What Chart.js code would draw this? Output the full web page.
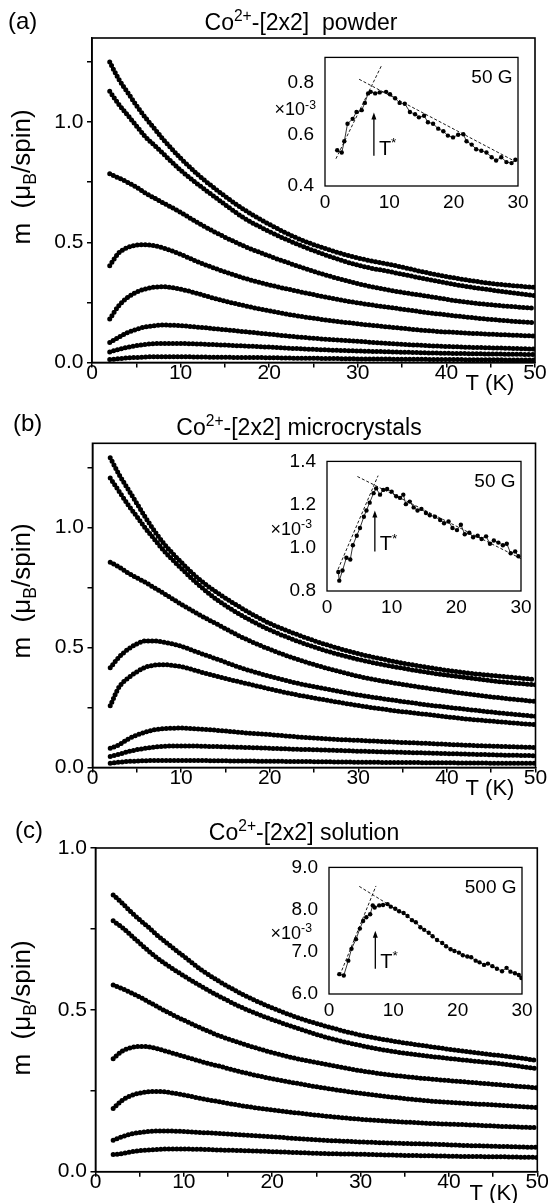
<!DOCTYPE html>
<html>
<head>
<meta charset="utf-8">
<script src="https://cdn.jsdelivr.net/npm/chart.js@4.4.1/dist/chart.umd.min.js"></script>
<style>
  body { margin: 0; background: #fff; }
  #wrap { position: relative; width: 548px; height: 1203px; overflow: hidden; }
  canvas { position: absolute; }
</style>
</head>
<body>
<div id="wrap">
  <canvas id="mainA"></canvas>
  <canvas id="insetA"></canvas>
  <canvas id="mainB"></canvas>
  <canvas id="insetB"></canvas>
  <canvas id="mainC"></canvas>
  <canvas id="insetC"></canvas>
</div>
<script>
// ---- data ----
const tempsK = [2, 3, 4, 5, 6, 7, 8, 10, 12, 14, 17, 20, 23, 26, 30, 34, 38, 42, 46, 50];
const xTickVals = [0, 5, 10, 15, 20, 25, 30, 35, 40, 45, 50];
const yTickValsAB = [0, 0.25, 0.5, 0.75, 1.0, 1.25];
const yTickValsC = [0, 0.25, 0.5, 0.75, 1.0];

// (a) powder, m (muB/spin), one row per field
const powderM = [
  [1.25, 1.18, 1.125, 1.07, 1.02, 0.975, 0.93, 0.85, 0.78, 0.72, 0.64, 0.575, 0.52, 0.478, 0.435, 0.405, 0.372, 0.345, 0.325, 0.312],
  [1.128, 1.075, 1.03, 0.985, 0.94, 0.905, 0.87, 0.80, 0.74, 0.685, 0.605, 0.545, 0.495, 0.452, 0.405, 0.375, 0.345, 0.318, 0.297, 0.278],
  [0.785, 0.768, 0.75, 0.73, 0.705, 0.685, 0.665, 0.625, 0.58, 0.54, 0.487, 0.443, 0.404, 0.368, 0.328, 0.298, 0.275, 0.252, 0.237, 0.225],
  [0.403, 0.455, 0.478, 0.488, 0.49, 0.486, 0.477, 0.45, 0.418, 0.39, 0.353, 0.323, 0.298, 0.275, 0.248, 0.227, 0.207, 0.19, 0.176, 0.165],
  [0.181, 0.235, 0.27, 0.292, 0.306, 0.313, 0.315, 0.305, 0.286, 0.265, 0.238, 0.215, 0.195, 0.179, 0.161, 0.146, 0.132, 0.123, 0.116, 0.11],
  [0.083, 0.105, 0.124, 0.138, 0.148, 0.153, 0.156, 0.153, 0.147, 0.14, 0.129, 0.118, 0.107, 0.098, 0.088, 0.078, 0.07, 0.064, 0.06, 0.056],
  [0.044, 0.054, 0.063, 0.07, 0.075, 0.078, 0.079, 0.079, 0.077, 0.074, 0.069, 0.064, 0.058, 0.053, 0.048, 0.044, 0.04, 0.037, 0.035, 0.033],
  [0.012, 0.016, 0.019, 0.021, 0.023, 0.024, 0.024, 0.024, 0.023, 0.022, 0.021, 0.02, 0.018, 0.017, 0.015, 0.014, 0.013, 0.012, 0.011, 0.01]
];

// (b) microcrystals
const microM = [
  [1.29, 1.22, 1.16, 1.10, 1.04, 0.985, 0.935, 0.855, 0.785, 0.73, 0.66, 0.60, 0.555, 0.516, 0.474, 0.442, 0.416, 0.395, 0.38, 0.366],
  [1.205, 1.15, 1.095, 1.045, 0.995, 0.95, 0.905, 0.83, 0.76, 0.70, 0.63, 0.573, 0.528, 0.49, 0.45, 0.42, 0.395, 0.375, 0.357, 0.344],
  [0.855, 0.835, 0.81, 0.79, 0.77, 0.748, 0.726, 0.68, 0.637, 0.598, 0.54, 0.492, 0.452, 0.418, 0.38, 0.352, 0.329, 0.308, 0.29, 0.275],
  [0.415, 0.46, 0.492, 0.515, 0.527, 0.527, 0.522, 0.505, 0.478, 0.452, 0.412, 0.38, 0.352, 0.33, 0.302, 0.28, 0.26, 0.243, 0.227, 0.213],
  [0.257, 0.335, 0.372, 0.398, 0.418, 0.426, 0.428, 0.42, 0.40, 0.38, 0.353, 0.327, 0.303, 0.283, 0.258, 0.237, 0.22, 0.203, 0.19, 0.178],
  [0.08, 0.095, 0.118, 0.135, 0.148, 0.157, 0.162, 0.164, 0.16, 0.155, 0.145, 0.137, 0.128, 0.12, 0.113, 0.106, 0.10, 0.093, 0.088, 0.083],
  [0.046, 0.055, 0.066, 0.074, 0.08, 0.085, 0.088, 0.09, 0.089, 0.087, 0.084, 0.08, 0.076, 0.073, 0.068, 0.064, 0.06, 0.056, 0.052, 0.049],
  [0.018, 0.022, 0.025, 0.027, 0.028, 0.029, 0.029, 0.029, 0.029, 0.028, 0.027, 0.026, 0.025, 0.024, 0.022, 0.021, 0.02, 0.019, 0.018, 0.018]
];

// (c) solution
const solutionM = [
  [0.855, 0.83, 0.803, 0.778, 0.755, 0.73, 0.708, 0.665, 0.623, 0.588, 0.543, 0.506, 0.475, 0.45, 0.422, 0.402, 0.386, 0.371, 0.358, 0.344],
  [0.775, 0.755, 0.731, 0.706, 0.682, 0.66, 0.64, 0.605, 0.572, 0.542, 0.502, 0.47, 0.442, 0.416, 0.39, 0.37, 0.356, 0.344, 0.333, 0.318],
  [0.577, 0.566, 0.553, 0.54, 0.525, 0.51, 0.495, 0.468, 0.443, 0.42, 0.392, 0.368, 0.348, 0.332, 0.312, 0.297, 0.286, 0.277, 0.268, 0.259],
  [0.349, 0.372, 0.383, 0.387, 0.386, 0.38, 0.372, 0.356, 0.34, 0.326, 0.305, 0.287, 0.272, 0.258, 0.242, 0.229, 0.218, 0.211, 0.205, 0.198],
  [0.195, 0.22, 0.235, 0.243, 0.247, 0.248, 0.246, 0.237, 0.226, 0.216, 0.202, 0.191, 0.181, 0.172, 0.162, 0.155, 0.149, 0.145, 0.14, 0.136],
  [0.097, 0.108, 0.116, 0.121, 0.124, 0.126, 0.126, 0.124, 0.121, 0.118, 0.113, 0.108, 0.102, 0.097, 0.092, 0.088, 0.085, 0.081, 0.078, 0.075],
  [0.053, 0.056, 0.061, 0.065, 0.067, 0.069, 0.07, 0.07, 0.069, 0.067, 0.065, 0.062, 0.059, 0.056, 0.054, 0.051, 0.049, 0.047, 0.046, 0.044]
];

// insets: susceptibility (x10^-3) at low field
const insetPowderT = [1.9, 2.6, 3.0, 3.5, 4.3, 4.9, 5.7, 6.2, 6.7, 7.1, 7.8, 8.5, 9.5, 10.1, 10.9, 11.6, 12.4, 13.2, 14.0, 14.6, 15.4, 16.0, 16.8, 17.6, 18.4, 19.1, 19.9, 20.7, 21.5, 22.0, 22.8, 23.5, 24.3, 25.1, 25.9, 26.6, 27.4, 28.2, 29.0, 29.6];
const insetPowderChi = [0.539, 0.530, 0.574, 0.642, 0.661, 0.688, 0.695, 0.723, 0.760, 0.766, 0.760, 0.764, 0.766, 0.757, 0.741, 0.723, 0.720, 0.688, 0.679, 0.667, 0.673, 0.648, 0.642, 0.623, 0.613, 0.596, 0.589, 0.599, 0.601, 0.574, 0.561, 0.543, 0.537, 0.530, 0.512, 0.499, 0.512, 0.493, 0.489, 0.502];

const insetMicroT = [1.75, 1.9, 2.4, 3.0, 3.6, 4.0, 4.6, 5.1, 5.7, 6.1, 6.6, 7.2, 7.6, 8.2, 8.7, 9.3, 10.0, 10.7, 11.3, 11.8, 12.2, 12.8, 13.4, 14.0, 14.6, 15.3, 15.9, 16.7, 17.5, 18.1, 18.8, 19.4, 20.1, 20.7, 21.3, 22.0, 22.6, 23.3, 23.9, 24.6, 25.2, 25.8, 26.5, 27.2, 27.8, 28.4, 29.1, 29.6];
const insetMicroChi = [0.888, 0.848, 0.895, 0.954, 0.946, 1.012, 1.056, 1.092, 1.144, 1.173, 1.209, 1.253, 1.275, 1.246, 1.268, 1.272, 1.26, 1.239, 1.231, 1.246, 1.202, 1.214, 1.187, 1.173, 1.18, 1.161, 1.151, 1.144, 1.129, 1.114, 1.122, 1.092, 1.082, 1.107, 1.063, 1.07, 1.049, 1.056, 1.041, 1.053, 1.019, 1.034, 1.024, 1.012, 1.019, 0.975, 0.983, 0.961];

const insetSolutionT = [1.6, 2.3, 3.0, 3.5, 4.2, 4.8, 5.3, 5.8, 6.4, 6.8, 7.1, 7.8, 8.4, 9.1, 9.6, 10.3, 10.9, 11.6, 12.2, 12.9, 13.5, 14.2, 14.8, 15.5, 16.1, 16.8, 17.6, 18.2, 18.9, 19.5, 20.2, 20.8, 21.5, 22.1, 22.8, 23.4, 24.1, 24.7, 25.4, 26.1, 26.9, 27.6, 28.2, 28.9, 29.5, 29.9];
const insetSolutionChi = [6.47, 6.44, 6.79, 7.07, 7.30, 7.55, 7.73, 7.82, 7.89, 8.10, 8.05, 8.10, 8.11, 8.13, 8.07, 8.02, 7.96, 7.92, 7.85, 7.75, 7.70, 7.58, 7.52, 7.45, 7.37, 7.28, 7.21, 7.13, 7.06, 7.02, 6.98, 6.92, 6.89, 6.87, 6.79, 6.75, 6.69, 6.72, 6.66, 6.60, 6.54, 6.62, 6.53, 6.49, 6.45, 6.38];

// dashed guide lines in the insets (end points)
const powderFitT = [[1.7, 8.8], [5.3, 29.6]];
const powderFitChi = [[0.506, 0.869], [0.815, 0.495]];
const microFitT = [[1.7, 7.9], [4.7, 30]];
const microFitChi = [[0.90, 1.334], [1.33, 0.95]];
const solutionFitT = [[1.7, 7.3], [4.7, 12]];
const solutionFitChi = [[6.45, 8.56], [8.55, 7.86]];

const FONT = '"Liberation Sans", Arial, Helvetica, sans-serif';

// draws text made of normal / superscript / subscript pieces
function richText(ctx, parts, x, y, size, align) {
  const fontFor = m => (m ? size * 0.68 : size) + 'px ' + FONT;
  const widths = parts.map(p => { ctx.font = fontFor(p[1]); return ctx.measureText(p[0]).width; });
  const total = widths.reduce((a, b) => a + b, 0);
  let cx = align === 'center' ? x - total / 2 : align === 'right' ? x - total : x;
  ctx.textAlign = 'left';
  ctx.textBaseline = 'alphabetic';
  parts.forEach((p, i) => {
    ctx.font = fontFor(p[1]);
    const dy = p[1] === 1 ? -size * 0.38 : p[1] === -1 ? size * 0.22 : 0;
    ctx.fillText(p[0], cx, y + dy);
    cx += widths[i];
  });
}

const framePlugin = {
  id: 'frame',
  afterDraw(chart, args, opts) {
    const { ctx, chartArea: a } = chart;
    ctx.save();
    ctx.strokeStyle = '#000';
    ctx.lineWidth = opts.width;
    ctx.strokeRect(a.left, a.top, a.right - a.left, a.bottom - a.top);
    ctx.restore();
  }
};

const decoPlugin = {
  id: 'deco',
  afterDraw(chart, args, o) {
    const ctx = chart.ctx;
    ctx.save();
    ctx.fillStyle = '#000';
    richText(ctx, o.title, o.titleX, o.titleY, 23, 'center');
    richText(ctx, [[o.letter, 0]], o.letterX, o.letterY, 24, 'left');
    richText(ctx, [['T (K)', 0]], o.unitX, o.unitY, 22, 'center');
    ctx.translate(o.yTitleX, o.yTitleY);
    ctx.rotate(-Math.PI / 2);
    richText(ctx, [['m  (\u03bc', 0], ['B', -1], ['/spin)', 0]], 0, 0, 26, 'center');
    ctx.restore();
  }
};

const insetPlugin = {
  id: 'insetDeco',
  afterDraw(chart, args, o) {
    const { ctx, chartArea: a, scales } = chart;
    ctx.save();
    ctx.fillStyle = '#000';
    ctx.strokeStyle = '#000';
    richText(ctx, [[o.field, 0]], a.right - 5.5, a.top + 26, 19, 'right');
    const yl = scales.y.getPixelForValue(o.scaleLabelAt);
    richText(ctx, [['\u00d710', 0], ['-3', 1]], a.left - o.scaleLabelGap, yl + 6.5, 18, 'right');
    // T* arrow
    const ax = scales.x.getPixelForValue(o.arrowT);
    const y0 = scales.y.getPixelForValue(o.arrowFrom);
    const y1 = scales.y.getPixelForValue(o.arrowTo);
    ctx.lineWidth = 1.3;
    ctx.beginPath();
    ctx.moveTo(ax, y0);
    ctx.lineTo(ax, y1 + 5);
    ctx.stroke();
    ctx.beginPath();
    ctx.moveTo(ax, y1);
    ctx.lineTo(ax - 2.5, y1 + 7);
    ctx.lineTo(ax + 2.5, y1 + 7);
    ctx.closePath();
    ctx.fill();
    richText(ctx, [['T', 0], ['*', 1]], ax + 5, y0 - 1, 20, 'left');
    ctx.restore();
  }
};

function makeMain(id, g, curves, yMax, yTicks, deco) {
  const canvas = document.getElementById(id);
  canvas.width = 548;
  canvas.height = g.h;
  canvas.style.left = '0px';
  canvas.style.top = g.y0 + 'px';
  const datasets = curves.map(ms => ({
    data: tempsK.map((t, i) => ({ x: t, y: ms[i] })),
    borderColor: '#000',
    borderWidth: 5,
    borderDash: [0, 4],
    borderCapStyle: 'round',
    cubicInterpolationMode: 'monotone',
    pointRadius: 0,
    fill: false
  }));
  new Chart(canvas, {
    type: 'line',
    data: { datasets },
    options: {
      responsive: false,
      animation: false,
      events: [],
      layout: { padding: { left: 0, top: g.top - g.y0, right: 548 - g.right, bottom: 0 } },
      scales: {
        x: {
          type: 'linear', min: 0, max: 50,
          afterBuildTicks: s => { s.ticks = xTickVals.map(v => ({ value: v })); },
          afterFit: s => { s.height = g.y0 + g.h - g.bottom; },
          ticks: {
            callback: v => (v % 10 === 0 ? String(v) : ''),
            font: { family: FONT, size: 21 }, color: '#000',
            padding: -7, maxRotation: 0, autoSkip: false
          },
          grid: { drawOnChartArea: false, drawTicks: true, tickLength: 5, color: '#000', lineWidth: 1.5 },
          border: { display: true, color: '#000', width: 1.5 }
        },
        y: {
          type: 'linear', min: 0, max: yMax,
          afterBuildTicks: s => { s.ticks = yTicks.map(v => ({ value: v })); },
          afterFit: s => { s.width = g.left; },
          ticks: {
            callback: v => (Math.abs(v * 2 - Math.round(v * 2)) < 1e-6 ? v.toFixed(1) : ''),
            font: { family: FONT, size: 21 }, color: '#000', padding: 3.5
          },
          grid: { drawOnChartArea: false, drawTicks: true, tickLength: 5, color: '#000', lineWidth: 1.5 },
          border: { display: true, color: '#000', width: 1.5 }
        }
      },
      plugins: {
        legend: { display: false },
        tooltip: { enabled: false },
        frame: { width: 1.6 },
        deco: deco
      }
    },
    plugins: [framePlugin, decoPlugin]
  });
}

function makeInset(id, g, T, chi, yMin, yMax, yTicks, fitT, fitChi, extra) {
  const canvas = document.getElementById(id);
  const cx = g.left - 58, cy = g.top - 8;
  const cw = g.right + 14 - cx, ch = g.bottom + 24 - cy;
  canvas.width = cw;
  canvas.height = ch;
  canvas.style.left = cx + 'px';
  canvas.style.top = cy + 'px';
  const datasets = [{
    data: T.map((t, i) => ({ x: t, y: chi[i] })),
    borderColor: '#000', borderWidth: 0.8,
    pointRadius: 2.2, pointBackgroundColor: '#000', pointBorderWidth: 0,
    tension: 0, fill: false
  }];
  fitT.forEach((ft, k) => {
    datasets.push({
      data: ft.map((t, i) => ({ x: t, y: fitChi[k][i] })),
      borderColor: '#000', borderWidth: 0.9, borderDash: [3, 2],
      pointRadius: 0, fill: false
    });
  });
  new Chart(canvas, {
    type: 'line',
    data: { datasets },
    options: {
      responsive: false,
      animation: false,
      events: [],
      layout: { padding: { left: 0, top: g.top - cy, right: cx + cw - g.right, bottom: 0 } },
      scales: {
        x: {
          type: 'linear', min: 0, max: 30,
          afterBuildTicks: s => { s.ticks = [0, 10, 20, 30].map(v => ({ value: v })); },
          afterFit: s => { s.height = cy + ch - g.bottom; },
          ticks: { font: { family: FONT, size: 19 }, color: '#000', padding: -3, maxRotation: 0 },
          grid: { display: false },
          border: { display: false }
        },
        y: {
          type: 'linear', min: yMin, max: yMax,
          afterBuildTicks: s => { s.ticks = yTicks.map(v => ({ value: v })); },
          afterFit: s => { s.width = g.left - cx; },
          ticks: { callback: v => v.toFixed(1), font: { family: FONT, size: 19 }, color: '#000', padding: 3 },
          grid: { display: false },
          border: { display: false }
        }
      },
      plugins: {
        legend: { display: false },
        tooltip: { enabled: false },
        frame: { width: 1.3 },
        insetDeco: extra
      }
    },
    plugins: [framePlugin, insetPlugin]
  });
}

const titleStart = [['Co', 0], ['2+', 1]];

makeMain('mainA', { y0: 0, h: 405, left: 92, right: 535, top: 38, bottom: 362.5 },
  powderM, 1.35, yTickValsAB,
  { title: titleStart.concat([['-[2x2]  powder', 0]]), titleX: 301, titleY: 30,
    letter: '(a)', letterX: 8, letterY: 29, unitX: 490, unitY: 390, yTitleX: 30, yTitleY: 177 });

makeMain('mainB', { y0: 405, h: 405, left: 92.5, right: 535.5, top: 443.3, bottom: 767.5 },
  microM, 1.35, yTickValsAB,
  { title: titleStart.concat([['-[2x2] microcrystals', 0]]), titleX: 299, titleY: 30,
    letter: '(b)', letterX: 13, letterY: 26, unitX: 490, unitY: 390, yTitleX: 30, yTitleY: 186 });

makeMain('mainC', { y0: 810, h: 393, left: 95.5, right: 537.3, top: 848, bottom: 1171.7 },
  solutionM, 1.0, yTickValsC,
  { title: titleStart.concat([['-[2x2] solution', 0]]), titleX: 304, titleY: 30,
    letter: '(c)', letterX: 15, letterY: 28, unitX: 494, unitY: 390, yTitleX: 30, yTitleY: 198 });

makeInset('insetA', { left: 325, right: 518, top: 51, bottom: 186.7 },
  insetPowderT, insetPowderChi, 0.4, 0.9, [0.4, 0.6, 0.8], powderFitT, powderFitChi,
  { field: '50 G', scaleLabelAt: 0.7, scaleLabelGap: 9, arrowT: 7.6, arrowFrom: 0.518, arrowTo: 0.686 });

makeInset('insetB', { left: 327, right: 521.5, top: 455, bottom: 591.7 },
  insetMicroT, insetMicroChi, 0.8, 1.4, [0.8, 1.0, 1.2, 1.4], microFitT, microFitChi,
  { field: '50 G', scaleLabelAt: 1.09, scaleLabelGap: 15, arrowT: 7.4, arrowFrom: 0.983, arrowTo: 1.173 });

makeInset('insetC', { left: 329, right: 522, top: 860.5, bottom: 994 },
  insetSolutionT, insetSolutionChi, 6.0, 9.0, [6.0, 7.0, 8.0, 9.0], solutionFitT, solutionFitChi,
  { field: '500 G', scaleLabelAt: 7.46, scaleLabelGap: 17, arrowT: 7.2, arrowFrom: 6.6, arrowTo: 7.5 });
</script>
</body>
</html>
